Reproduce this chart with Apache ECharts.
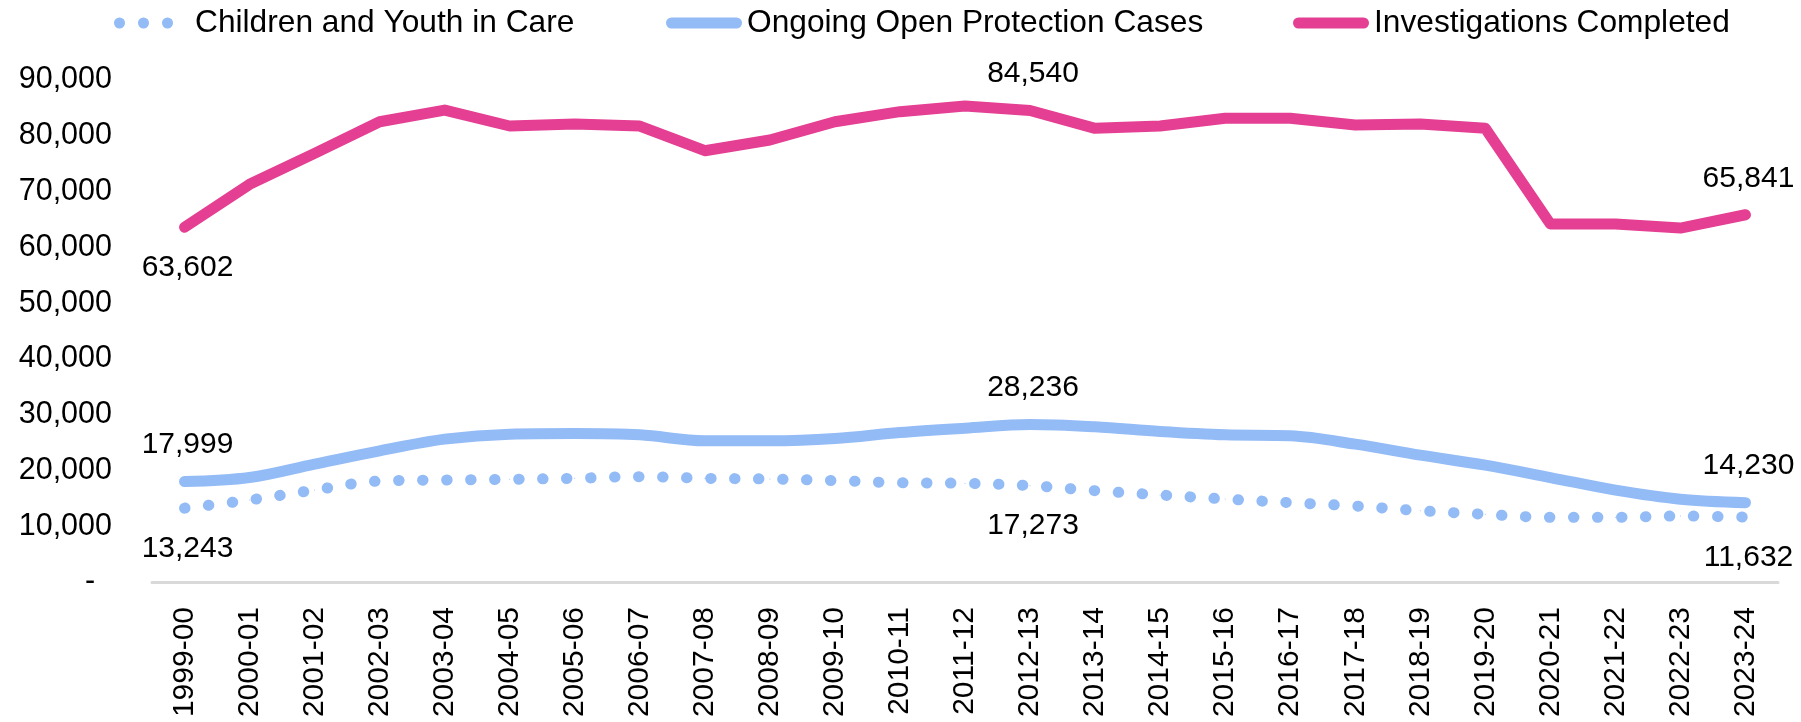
<!DOCTYPE html>
<html lang="en">

<head>
    <meta charset="UTF-8">
    <title>Children and Youth in Care, Open Protection Cases, Investigations</title>
    <script src="https://cdn.jsdelivr.net/npm/echarts@6/dist/echarts.min.js"></script>
    <style>
        html, body { margin: 0; padding: 0; background: #fff; }
    </style>
</head>

<body>
    <div id="container" style="width: 1801px;height: 722px"></div>

    <script>
        // fiscal years on the x axis
        var years = ['1999-00', '2000-01', '2001-02', '2002-03', '2003-04', '2004-05', '2005-06', '2006-07',
            '2007-08', '2008-09', '2009-10', '2010-11', '2011-12', '2012-13', '2013-14', '2014-15', '2015-16',
            '2016-17', '2017-18', '2018-19', '2019-20', '2020-21', '2021-22', '2022-23', '2023-24'];

        // values (labelled points are exact)
        var inCare = [13243, 14700, 16490, 18100, 18290, 18410, 18590, 18880, 18590, 18470, 18170, 17800,
            17690, 17273, 16370, 15600, 14880, 14220, 13620, 12780, 12130, 11600, 11600, 11830, 11632];
        var openCases = [17999, 18730, 21130, 23510, 25610, 26510, 26620, 26380, 25310, 25310, 25720, 26800,
            27580, 28236, 27820, 26980, 26380, 26200, 24710, 22740, 20950, 18730, 16470, 14850, 14230];
        var investigations = [63602, 71300, 76850, 82520, 84600, 81750, 82110, 81750, 77320, 79240, 82520, 84320,
            85330, 84540, 81330, 81750, 83130, 83130, 81930, 82110, 81330, 64180, 64180, 63460, 65841];

        // which points carry a value label, and where
        var inCareLabels = { 0: 'bottom', 13: 'bottom', 24: 'bottom' };
        var openCasesLabels = { 0: 'top', 13: 'top', 24: 'top' };
        var investigationsLabels = { 0: 'bottom', 13: 'top', 24: 'top' };

        var font = "'Liberation Sans', Arial, sans-serif";
        var blue = '#93bbf6';
        var pink = '#e43f92';

        function fmt(v) {
            return Number(v).toLocaleString('en-US');
        }

        // turn a value list into data items, adding labels where needed
        function buildData(values, labels) {
            return values.map(function (v, i) {
                var item = { value: v };
                var pos = labels[i];
                if (pos) {
                    item.label = {
                        show: true,
                        position: pos,
                        distance: pos === 'top' ? 21 : 25,
                        offset: [3, 0],
                        formatter: function (p) { return fmt(p.value); },
                        color: '#000',
                        fontSize: 30,
                        lineHeight: 30,
                        fontFamily: font
                    };
                }
                return item;
            });
        }

        // legend icons
        var dotsIcon = 'path://M0,5.5 A5.5,5.5 0 1,0 11,5.5 A5.5,5.5 0 1,0 0,5.5 Z' +
            ' M24,5.5 A5.5,5.5 0 1,0 35,5.5 A5.5,5.5 0 1,0 24,5.5 Z' +
            ' M48,5.5 A5.5,5.5 0 1,0 59,5.5 A5.5,5.5 0 1,0 48,5.5 Z' +
            ' M75.9,5.5 L76,5.5 L76,5.6 Z';
        var barIcon = 'path://M5.5,0 L70.5,0 A5.5,5.5 0 0,1 70.5,11 L5.5,11 A5.5,5.5 0 0,1 5.5,0 Z';

        function legendFor(name, left, icon) {
            return {
                data: [name],
                left: left,
                top: 7,
                padding: 0,
                icon: icon,
                itemWidth: 76,
                itemHeight: 11,
                itemStyle: { borderWidth: 0 },
                selectedMode: false,
                textStyle: { color: '#000', fontSize: 31.7, fontFamily: font }
            };
        }

        var myChart = echarts.init(document.getElementById('container'));
        myChart.setOption({
            animation: false,
            backgroundColor: '#fff',
            legend: [
                legendFor('Children and Youth in Care', 114, dotsIcon),
                legendFor('Ongoing Open Protection Cases', 666, barIcon),
                legendFor('Investigations Completed', 1293, barIcon)
            ],
            grid: { left: 152, right: 23, top: 80, bottom: 140 },
            xAxis: {
                type: 'category',
                data: years,
                boundaryGap: true,
                axisLine: { lineStyle: { color: '#d9d9d9', width: 3 } },
                axisTick: { show: false },
                axisLabel: {
                    rotate: 90,
                    margin: 25,
                    interval: 0,
                    color: '#000',
                    fontSize: 30,
                    fontFamily: font
                }
            },
            yAxis: {
                type: 'value',
                min: 0,
                max: 90000,
                interval: 10000,
                axisLine: { show: false },
                axisTick: { show: false },
                splitLine: { show: false },
                axisLabel: {
                    margin: 40,
                    color: '#000',
                    fontSize: 30.5,
                    fontFamily: font,
                    formatter: function (v) { return v === 0 ? '-  ' : fmt(v); }
                }
            },
            series: [
                {
                    name: 'Children and Youth in Care',
                    type: 'line',
                    color: blue,
                    smooth: 0.35,
                    symbol: 'circle',
                    symbolSize: 1,
                    itemStyle: { color: blue },
                    lineStyle: { color: blue, width: 11, type: [0.5, 23.5], cap: 'round', join: 'round' },
                    data: buildData(inCare, inCareLabels)
                },
                {
                    name: 'Ongoing Open Protection Cases',
                    type: 'line',
                    color: blue,
                    smooth: 0.35,
                    symbol: 'circle',
                    symbolSize: 1,
                    itemStyle: { color: blue },
                    lineStyle: { color: blue, width: 11, cap: 'round', join: 'round' },
                    data: buildData(openCases, openCasesLabels)
                },
                {
                    name: 'Investigations Completed',
                    type: 'line',
                    color: pink,
                    symbol: 'circle',
                    symbolSize: 1,
                    itemStyle: { color: pink },
                    lineStyle: { color: pink, width: 11, cap: 'round', join: 'round' },
                    data: buildData(investigations, investigationsLabels)
                }
            ]
        });
    </script>
</body>

</html>
